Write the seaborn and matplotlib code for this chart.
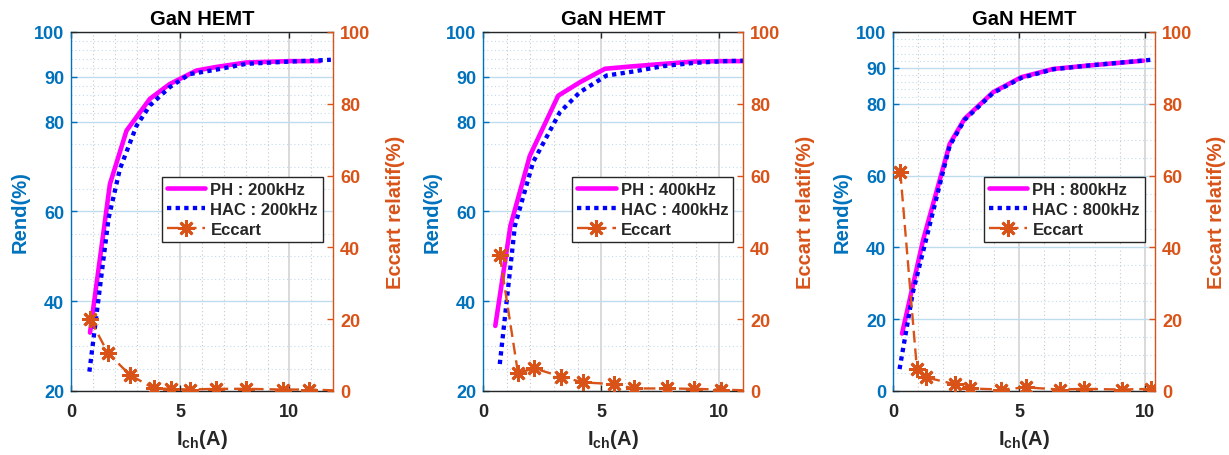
import matplotlib
matplotlib.use("Agg")
import matplotlib.pyplot as plt
import seaborn as sns
from matplotlib.ticker import FixedLocator, MultipleLocator

# ---- data (I in A, efficiency / gap in %) ----
# 200 kHz
x_ph_200 = [0.87, 1.78, 2.54, 3.61, 4.52, 5.74, 6.65, 8.02, 10.0, 11.4]
ph_200 = [33.0, 66.1, 78.0, 85.1, 88.4, 91.4, 92.2, 93.2, 93.5, 93.5]
x_hac_200 = [0.84, 1.72, 2.24, 3.0, 3.61, 4.52, 5.43, 6.65, 8.02, 10.0, 11.9]
hac_200 = [24.3, 58.5, 69.5, 79.1, 83.6, 87.7, 90.6, 91.6, 92.9, 93.4, 93.8]
x_ecc_200 = [0.87, 1.7, 2.69, 3.79, 4.6, 5.43, 6.65, 8.02, 9.7, 10.9, 12.4]
ecc_200 = [20.0, 10.5, 4.5, 0.7, 0.6, 0.4, 0.6, 0.6, 0.4, 0.4, 0.1]

# 400 kHz
x_ph_400 = [0.52, 1.16, 1.98, 3.18, 4.1, 5.16, 6.23, 7.64, 8.91, 10.04, 11.03]
ph_400 = [34.5, 56.8, 72.4, 85.8, 88.8, 91.8, 92.3, 92.9, 93.4, 93.5, 93.5]
x_hac_400 = [0.71, 1.35, 2.12, 3.25, 4.1, 5.23, 6.38, 7.64, 8.91, 10.2, 11.03]
hac_400 = [26.0, 56.8, 71.0, 82.1, 86.6, 90.3, 91.2, 92.4, 93.1, 93.5, 93.6]
x_ecc_400 = [0.71, 1.48, 2.17, 3.3, 4.23, 5.53, 6.4, 7.79, 8.91, 10.08, 11.4]
ecc_400 = [37.8, 5.0, 6.3, 4.0, 2.4, 1.9, 0.7, 0.7, 0.6, 0.4, 0.1]

# 800 kHz
x_ph_800 = [0.36, 1.19, 2.25, 2.84, 3.97, 5.09, 6.36, 7.68, 9.93]
ph_800 = [16.0, 41.9, 68.8, 75.8, 83.2, 87.4, 89.7, 90.6, 92.0]
x_hac_800 = [0.26, 0.79, 1.98, 2.25, 2.84, 3.97, 5.09, 6.36, 7.68, 10.33]
hac_800 = [6.1, 27.5, 60.9, 68.3, 75.5, 83.0, 87.2, 89.6, 90.6, 92.3]
x_ecc_800 = [0.29, 0.95, 1.3, 2.45, 3.07, 4.3, 5.27, 6.62, 7.59, 9.07, 10.26]
ecc_800 = [61.0, 6.1, 3.8, 1.9, 0.7, 0.4, 1.0, 0.4, 0.6, 0.4, 0.6]

freqs = ["200kHz", "400kHz", "800kHz"]
x_max = [12.0, 11.0, 10.4]
left_ylim = [(20, 100), (20, 100), (0, 100)]
left_ticks = [[20, 40, 60, 80, 90, 100], [20, 40, 60, 80, 90, 100],
              [0, 20, 40, 60, 80, 90, 100]]
left_minor = [
    [25, 30, 35, 45, 50, 55, 65, 70, 75, 82, 84, 86, 88, 92, 94, 96, 98],
    [25, 30, 35, 45, 50, 55, 65, 70, 75, 82, 84, 86, 88, 92, 94, 96, 98],
    [5, 10, 15, 25, 30, 35, 45, 50, 55, 65, 70, 75, 82, 84, 86, 88, 92, 94, 96, 98],
]
right_ticks = [0, 20, 40, 60, 80, 100]

BLUE_AX = "#0072BD"
ORANGE = "#D95319"
DARK = "#262626"

sns.set_theme(style="white")
plt.rcParams["font.family"] = ["Liberation Sans", "DejaVu Sans"]
plt.rcParams["font.weight"] = "bold"
plt.rcParams["mathtext.fontset"] = "custom"
plt.rcParams["mathtext.rm"] = "Liberation Sans:bold"
plt.rcParams["mathtext.bf"] = "Liberation Sans:bold"
plt.rcParams["mathtext.it"] = "Liberation Sans:bold"

fig = plt.figure(figsize=(12.29, 4.56), dpi=100)
rects = [
    [0.0578, 0.1404, 0.2132, 0.7873],
    [0.3930, 0.1404, 0.2116, 0.7873],
    [0.7266, 0.1404, 0.2132, 0.7873],
]
series = [
    (x_ph_200, ph_200, x_hac_200, hac_200, x_ecc_200, ecc_200),
    (x_ph_400, ph_400, x_hac_400, hac_400, x_ecc_400, ecc_400),
    (x_ph_800, ph_800, x_hac_800, hac_800, x_ecc_800, ecc_800),
]


def draw_panel(i):
    xp, yp, xh, yh, xe, ye = series[i]
    ax = fig.add_axes(rects[i])
    sns.lineplot(x=xp, y=yp, color="#FF00FF", lw=3.3, sort=False,
                 estimator=None, errorbar=None, ax=ax)
    sns.lineplot(x=xh, y=yh, color="#0000FF", lw=3.1, linestyle=(0, (1, 1)),
                 sort=False, estimator=None, errorbar=None, ax=ax)
    ax.set_xlim(0, x_max[i])
    ax.set_ylim(*left_ylim[i])
    ax.yaxis.set_major_locator(FixedLocator(left_ticks[i]))
    ax.yaxis.set_minor_locator(FixedLocator(left_minor[i]))
    ax.xaxis.set_major_locator(FixedLocator([0, 5, 10]))
    ax.xaxis.set_minor_locator(MultipleLocator(1))
    ax.set_axisbelow(True)
    ax.grid(which="major", axis="y", color="#BFDCEF", lw=1.0, ls="-")
    ax.grid(which="major", axis="x", color="#D3D3D3", lw=1.2, ls="-")
    ax.grid(which="minor", axis="y", color="#C2DCEE", lw=0.8, ls=(0, (1, 2.4)))
    ax.grid(which="minor", axis="x", color="#C8C8C8", lw=0.8, ls=(0, (1, 2.4)))
    ax.tick_params(which="major", direction="in", length=4, width=1,
                   top=True, bottom=True, left=True, right=False)
    ax.tick_params(which="minor", length=0)
    ax.tick_params(axis="y", colors=BLUE_AX, labelsize=13, pad=5)
    ax.tick_params(axis="x", colors=DARK, labelsize=13, pad=9)
    for lab in ax.get_xticklabels() + ax.get_yticklabels():
        lab.set_fontweight("bold")
    ax.spines["left"].set_color(BLUE_AX)
    ax.spines["right"].set_visible(False)
    for s in ("top", "bottom"):
        ax.spines[s].set_color(DARK)
    for s in ax.spines.values():
        s.set_linewidth(1.0)
    ax.set_title("GaN HEMT", fontsize=14.5, fontweight="bold", color="black", pad=6)
    ax.set_ylabel("Rend(%)", color=BLUE_AX, fontsize=14.5, fontweight="bold", labelpad=3)
    ax.set_xlabel(r"$\mathregular{I_{ch}}$(A)", color=DARK, fontsize=14.5,
                  fontweight="bold", labelpad=5)

    ax2 = ax.twinx()
    sns.lineplot(x=xe, y=ye, color=ORANGE, lw=1.7, linestyle=(0, (5, 2.5)),
                 marker=(8, 2, 0), markersize=12, markeredgecolor=ORANGE,
                 markeredgewidth=2.0, sort=False, estimator=None,
                 errorbar=None, ax=ax2)
    ax2.set_ylim(0, 100)
    ax2.set_xlim(0, x_max[i])
    ax2.yaxis.set_major_locator(FixedLocator(right_ticks))
    ax2.grid(False)
    ax2.tick_params(axis="y", which="major", direction="in", length=4, width=1,
                    colors=ORANGE, labelsize=13, pad=5, left=False, right=True)
    for lab in ax2.get_yticklabels():
        lab.set_fontweight("bold")
    for s in ("left", "top", "bottom"):
        ax2.spines[s].set_visible(False)
    ax2.spines["right"].set_color(ORANGE)
    ax2.spines["right"].set_linewidth(1.0)
    ax2.set_ylabel("Eccart relatif(%)", color=ORANGE, fontsize=14.5,
                   fontweight="bold", labelpad=11)

    if ax.get_legend() is not None:
        ax.get_legend().remove()
    if ax2.get_legend() is not None:
        ax2.get_legend().remove()
    handles = [ax.lines[0], ax.lines[1], ax2.lines[0]]
    labels = [f"PH : {freqs[i]}", f"HAC : {freqs[i]}", "Eccart"]
    leg = ax2.legend(handles, labels, loc="upper right",
                     bbox_to_anchor=(0.962, 0.596), fontsize=12,
                     frameon=True, fancybox=False, framealpha=1,
                     edgecolor=DARK, handlelength=2.3, handletextpad=0.3,
                     labelspacing=0.3, borderpad=0.3, borderaxespad=0)
    leg.get_frame().set_linewidth(1.0)
    for t in leg.get_texts():
        t.set_fontweight("bold")


for i in range(3):
    draw_panel(i)

fig.savefig("out.png", dpi=100)
